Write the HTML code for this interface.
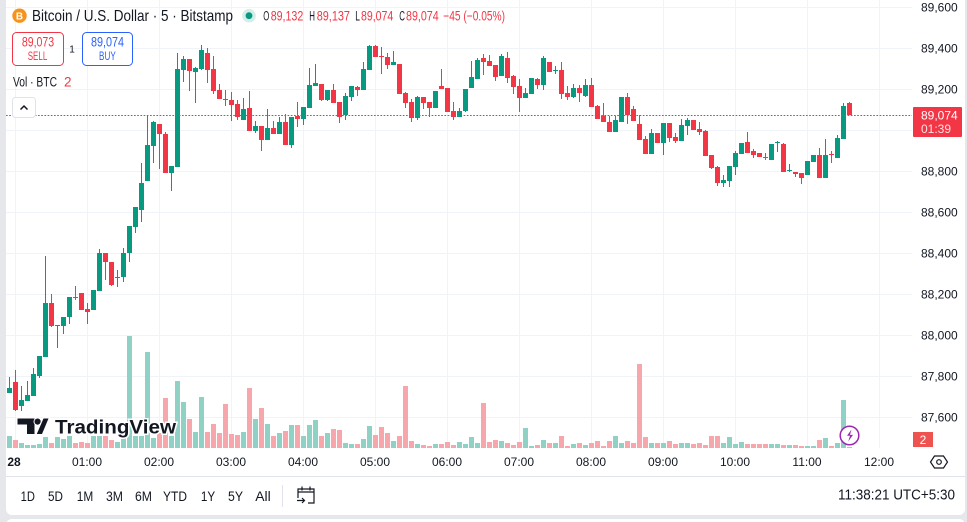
<!DOCTYPE html>
<html><head><meta charset="utf-8"><style>
html,body{margin:0;padding:0;background:#e6e7ea;}
svg{display:block;font-family:"Liberation Sans",Arial,sans-serif;}
</style></head><body>
<svg width="967" height="522" viewBox="0 0 967 522" xmlns="http://www.w3.org/2000/svg">
<rect x="0" y="0" width="967" height="522" fill="#e6e7ea"/>
<rect x="6" y="-10" width="959" height="525" rx="6" fill="#ffffff"/>
<rect x="6" y="519" width="959" height="20" rx="6" fill="#ffffff"/>

<!-- grid -->
<g stroke="#f0f3fa" stroke-width="1" shape-rendering="crispEdges">
<path d="M6 7.5H912M6 48.5H912M6 89.5H912M6 130.5H912M6 171.5H912M6 212.5H912M6 253.5H912M6 294.5H912M6 335.5H912M6 376.5H912M6 417.5H912"/>
<path d="M15.5 0V448M87.5 0V448M159.5 0V448M231.5 0V448M303.5 0V448M375.5 0V448M447.5 0V448M519.5 0V448M591.5 0V448M663.5 0V448M735.5 0V448M807.5 0V448M879.5 0V448"/>
</g>

<!-- volume -->
<g shape-rendering="crispEdges">
<path fill="#90d1c6" d="M7 436h5V448h-5zM19 443h5V448h-5zM25 445h5V448h-5zM31 445h5V448h-5zM37 444h5V448h-5zM43 437h5V448h-5zM55 437h5V448h-5zM61 439h5V448h-5zM67 436h5V448h-5zM91 436h5V448h-5zM97 436h5V448h-5zM115 442h5V448h-5zM121 438h5V448h-5zM127 336h5V448h-5zM133 436h5V448h-5zM139 436h5V448h-5zM145 352h5V448h-5zM151 438h5V448h-5zM169 436h5V448h-5zM175 381h5V448h-5zM181 402h5V448h-5zM193 432h5V448h-5zM199 397h5V448h-5zM241 432h5V448h-5zM253 419h5V448h-5zM265 424h5V448h-5zM277 433h5V448h-5zM289 425h5V448h-5zM301 436h5V448h-5zM307 425h5V448h-5zM313 420h5V448h-5zM325 433h5V448h-5zM343 443h5V448h-5zM349 444h5V448h-5zM361 439h5V448h-5zM367 426h5V448h-5zM391 441h5V448h-5zM415 444h5V448h-5zM433 444h5V448h-5zM457 442h5V448h-5zM463 444h5V448h-5zM469 437h5V448h-5zM475 443h5V448h-5zM499 441h5V448h-5zM523 428h5V448h-5zM529 446h5V448h-5zM541 440h5V448h-5zM553 443h5V448h-5zM571 444h5V448h-5zM583 445h5V448h-5zM613 436h5V448h-5zM619 443h5V448h-5zM649 443h5V448h-5zM661 443h5V448h-5zM679 443h5V448h-5zM685 443h5V448h-5zM721 443h5V448h-5zM727 437h5V448h-5zM733 444h5V448h-5zM739 442h5V448h-5zM769 444h5V448h-5zM775 444h5V448h-5zM787 445h5V448h-5zM805 446h5V448h-5zM811 446h5V448h-5zM823 438h5V448h-5zM835 443h5V448h-5zM841 400h5V448h-5z"/>
<path fill="#f7a7ab" d="M13 440h5V448h-5zM49 443h5V448h-5zM73 443h5V448h-5zM79 442h5V448h-5zM85 443h5V448h-5zM103 436h5V448h-5zM109 440h5V448h-5zM157 433h5V448h-5zM163 398h5V448h-5zM187 419h5V448h-5zM205 432h5V448h-5zM211 424h5V448h-5zM217 433h5V448h-5zM223 404h5V448h-5zM229 434h5V448h-5zM235 435h5V448h-5zM247 388h5V448h-5zM259 408h5V448h-5zM271 436h5V448h-5zM283 431h5V448h-5zM295 425h5V448h-5zM319 436h5V448h-5zM331 429h5V448h-5zM337 430h5V448h-5zM355 444h5V448h-5zM373 435h5V448h-5zM379 427h5V448h-5zM385 433h5V448h-5zM397 436h5V448h-5zM403 386h5V448h-5zM409 441h5V448h-5zM421 445h5V448h-5zM427 446h5V448h-5zM439 444h5V448h-5zM445 442h5V448h-5zM451 445h5V448h-5zM481 403h5V448h-5zM487 442h5V448h-5zM493 440h5V448h-5zM505 443h5V448h-5zM511 445h5V448h-5zM517 442h5V448h-5zM535 445h5V448h-5zM547 443h5V448h-5zM559 436h5V448h-5zM565 446h5V448h-5zM577 443h5V448h-5zM589 443h5V448h-5zM595 441h5V448h-5zM601 446h5V448h-5zM607 441h5V448h-5zM625 441h5V448h-5zM631 443h5V448h-5zM637 364h5V448h-5zM643 437h5V448h-5zM655 443h5V448h-5zM667 441h5V448h-5zM673 444h5V448h-5zM691 444h5V448h-5zM697 443h5V448h-5zM703 445h5V448h-5zM709 436h5V448h-5zM715 436h5V448h-5zM745 444h5V448h-5zM751 444h5V448h-5zM757 444h5V448h-5zM763 444h5V448h-5zM781 445h5V448h-5zM793 445h5V448h-5zM799 446h5V448h-5zM817 440h5V448h-5zM829 446h5V448h-5zM847 447h5V448h-5z"/>
</g>

<!-- candles -->
<g shape-rendering="crispEdges">
<path fill="#089981" d="M9 377h1v16h-1zM7 388h5v5h-5zM21 386h1v25h-1zM19 400h5v6h-5zM27 381h1v20h-1zM25 395h5v6h-5zM33 368h1v28h-1zM31 374h5v22h-5zM39 356h1v22h-1zM37 356h5v20h-5zM45 256h1v101h-1zM43 303h5v54h-5zM57 325h1v23h-1zM55 325h5v1h-5zM63 317h1v17h-1zM61 317h5v9h-5zM69 297h1v27h-1zM67 297h5v20h-5zM93 290h1v20h-1zM91 290h5v20h-5zM99 249h1v42h-1zM97 253h5v38h-5zM117 270h1v17h-1zM115 277h5v1h-5zM123 248h1v34h-1zM121 253h5v24h-5zM129 226h1v36h-1zM127 226h5v27h-5zM135 207h1v26h-1zM133 207h5v20h-5zM141 163h1v59h-1zM139 183h5v27h-5zM147 116h1v65h-1zM145 145h5v36h-5zM153 121h1v42h-1zM151 122h5v24h-5zM171 166h1v25h-1zM169 166h5v7h-5zM177 53h1v114h-1zM175 69h5v98h-5zM183 56h1v26h-1zM181 59h5v11h-5zM195 67h1v36h-1zM193 68h5v4h-5zM201 45h1v25h-1zM199 50h5v19h-5zM243 98h1v22h-1zM241 109h5v11h-5zM255 121h1v12h-1zM253 126h5v5h-5zM267 109h1v31h-1zM265 128h5v12h-5zM279 117h1v17h-1zM277 122h5v12h-5zM291 117h1v31h-1zM289 117h5v28h-5zM303 107h1v18h-1zM301 107h5v12h-5zM309 68h1v40h-1zM307 85h5v23h-5zM315 64h1v22h-1zM313 83h5v3h-5zM327 90h1v11h-1zM325 90h5v10h-5zM345 93h1v27h-1zM343 96h5v19h-5zM351 86h1v15h-1zM349 86h5v11h-5zM363 62h1v28h-1zM361 69h5v21h-5zM369 45h1v25h-1zM367 46h5v24h-5zM393 51h1v14h-1zM391 62h5v3h-5zM417 96h1v24h-1zM415 97h5v21h-5zM435 91h1v17h-1zM433 91h5v17h-5zM459 108h1v9h-1zM457 111h5v6h-5zM465 89h1v23h-1zM463 89h5v22h-5zM471 61h1v27h-1zM469 77h5v11h-5zM477 58h1v21h-1zM475 60h5v19h-5zM501 54h1v22h-1zM499 56h5v20h-5zM525 88h1v10h-1zM523 93h5v5h-5zM531 78h1v16h-1zM529 78h5v16h-5zM543 56h1v34h-1zM541 58h5v27h-5zM555 66h1v8h-1zM553 70h5v1h-5zM573 84h1v14h-1zM571 88h5v9h-5zM585 79h1v18h-1zM583 85h5v11h-5zM615 116h1v16h-1zM613 120h5v12h-5zM621 97h1v25h-1zM619 97h5v25h-5zM651 129h1v25h-1zM649 133h5v21h-5zM663 123h1v32h-1zM661 123h5v20h-5zM681 119h1v22h-1zM679 125h5v16h-5zM687 118h1v17h-1zM685 120h5v6h-5zM723 175h1v12h-1zM721 180h5v3h-5zM729 166h1v21h-1zM727 166h5v15h-5zM735 151h1v24h-1zM733 153h5v14h-5zM741 143h1v11h-1zM739 143h5v11h-5zM771 144h1v16h-1zM769 144h5v16h-5zM777 141h1v11h-1zM775 142h5v1h-5zM789 164h1v8h-1zM787 170h5v1h-5zM807 161h1v14h-1zM805 161h5v14h-5zM813 155h1v7h-1zM811 155h5v7h-5zM825 139h1v39h-1zM823 155h5v23h-5zM837 135h1v23h-1zM835 138h5v20h-5zM843 103h1v36h-1zM841 106h5v33h-5z"/>
<path fill="#f23645" d="M15 370h1v41h-1zM13 382h5v28h-5zM51 294h1v33h-1zM49 303h5v23h-5zM75 286h1v14h-1zM73 297h5v1h-5zM81 293h1v17h-1zM79 293h5v17h-5zM87 303h1v21h-1zM85 309h5v3h-5zM105 253h1v27h-1zM103 253h5v9h-5zM111 262h1v24h-1zM109 262h5v23h-5zM159 124h1v45h-1zM157 124h5v10h-5zM165 132h1v41h-1zM163 134h5v39h-5zM189 59h1v32h-1zM187 59h5v12h-5zM207 48h1v35h-1zM205 53h5v17h-5zM213 56h1v38h-1zM211 69h5v22h-5zM219 84h1v15h-1zM217 90h5v9h-5zM225 90h1v16h-1zM223 99h5v1h-5zM231 92h1v29h-1zM229 100h5v5h-5zM237 100h1v20h-1zM235 104h5v13h-5zM249 91h1v40h-1zM247 108h5v23h-5zM261 126h1v25h-1zM259 126h5v14h-5zM273 121h1v13h-1zM271 128h5v6h-5zM285 114h1v31h-1zM283 122h5v23h-5zM297 102h1v25h-1zM295 116h5v3h-5zM321 84h1v17h-1zM319 84h5v16h-5zM333 84h1v19h-1zM331 90h5v13h-5zM339 102h1v21h-1zM337 102h5v15h-5zM357 86h1v10h-1zM355 87h5v3h-5zM375 45h1v12h-1zM373 46h5v11h-5zM381 47h1v27h-1zM379 56h5v1h-5zM387 53h1v16h-1zM385 57h5v8h-5zM399 64h1v30h-1zM397 64h5v30h-5zM405 92h1v16h-1zM403 93h5v10h-5zM411 99h1v23h-1zM409 102h5v16h-5zM423 97h1v12h-1zM421 97h5v6h-5zM429 102h1v15h-1zM427 102h5v6h-5zM441 69h1v20h-1zM439 86h5v3h-5zM447 88h1v24h-1zM445 88h5v24h-5zM453 102h1v18h-1zM451 111h5v6h-5zM483 54h1v21h-1zM481 58h5v4h-5zM489 55h1v11h-1zM487 61h5v5h-5zM495 65h1v16h-1zM493 65h5v12h-5zM507 52h1v31h-1zM505 58h5v20h-5zM513 75h1v19h-1zM511 76h5v11h-5zM519 79h1v33h-1zM517 86h5v12h-5zM537 78h1v11h-1zM535 79h5v6h-5zM549 62h1v10h-1zM547 62h5v10h-5zM561 62h1v37h-1zM559 70h5v24h-5zM567 86h1v14h-1zM565 93h5v4h-5zM579 85h1v17h-1zM577 88h5v5h-5zM591 78h1v29h-1zM589 85h5v22h-5zM597 105h1v14h-1zM595 106h5v13h-5zM603 103h1v19h-1zM601 116h5v6h-5zM609 116h1v16h-1zM607 122h5v10h-5zM627 93h1v31h-1zM625 97h5v18h-5zM633 106h1v15h-1zM631 109h5v12h-5zM639 115h1v25h-1zM637 124h5v16h-5zM645 136h1v18h-1zM643 139h5v15h-5zM657 133h1v10h-1zM655 133h5v10h-5zM669 123h1v19h-1zM667 123h5v15h-5zM675 133h1v10h-1zM673 137h5v4h-5zM693 120h1v10h-1zM691 120h5v10h-5zM699 122h1v13h-1zM697 129h5v3h-5zM705 130h1v26h-1zM703 131h5v25h-5zM711 155h1v14h-1zM709 155h5v13h-5zM717 166h1v20h-1zM715 167h5v16h-5zM747 132h1v21h-1zM745 142h5v11h-5zM753 149h1v9h-1zM751 151h5v4h-5zM759 153h1v4h-1zM757 153h5v4h-5zM765 153h1v7h-1zM763 157h5v1h-5zM783 143h1v29h-1zM781 144h5v28h-5zM795 172h1v5h-1zM793 172h5v2h-5zM801 173h1v11h-1zM799 173h5v5h-5zM819 148h1v30h-1zM817 155h5v23h-5zM831 151h1v12h-1zM829 154h5v1h-5zM849 102h1v13h-1zM847 103h5v12h-5z"/>
</g>

<!-- current price dotted line -->
<line x1="6" y1="115.5" x2="912" y2="115.5" stroke="#f23645" stroke-width="1.1" stroke-dasharray="1.7 1.5"/>

<!-- TradingView logo -->
<g>
<path d="M17.5 418.5h17v15.5h-7.5v-9.5h-9.5z" fill="#131722" stroke="#fff" stroke-width="2.5" paint-order="stroke"/>
<circle cx="37.6" cy="421.6" r="3.1" fill="#131722" stroke="#fff" stroke-width="2" paint-order="stroke"/>
<path d="M43.5 418.5h5l-6.5 15.5h-5.2z" fill="#131722" stroke="#fff" stroke-width="2.5" paint-order="stroke"/>
<text x="55" y="433.5" font-size="19.5" font-weight="bold" fill="#131722" stroke="#ffffff" stroke-width="3" paint-order="stroke" textLength="121" lengthAdjust="spacingAndGlyphs">TradingView</text>
</g>

<!-- lightning badge -->
<circle cx="849.5" cy="435.5" r="9.3" fill="#ffffff" stroke="#9c27b0" stroke-width="1.5"/>
<path d="M851.5 429.5l-4.5 6.3h3l-1.8 5.7 4.8-6.6h-3z" fill="#9c27b0"/>

<!-- header -->
<circle cx="19.5" cy="15.7" r="7.2" fill="#f7931a"/>
<text x="19.5" y="19.4" font-size="10" font-weight="bold" fill="#ffffff" text-anchor="middle">B</text>
<text x="32" y="21" font-size="16" fill="#131722" textLength="201" lengthAdjust="spacingAndGlyphs">Bitcoin / U.S. Dollar · 5 · Bitstamp</text>
<circle cx="249" cy="15.7" r="6.8" fill="#d3eee9"/>
<circle cx="249" cy="15.7" r="3.4" fill="#089981"/>
<g font-size="13.5">
<text x="263.3" y="20.7" fill="#131722" textLength="6" lengthAdjust="spacingAndGlyphs">O</text>
<text x="270.7" y="20.7" fill="#f23645" textLength="32.6" lengthAdjust="spacingAndGlyphs">89,132</text>
<text x="309.3" y="20.7" fill="#131722" textLength="5.7" lengthAdjust="spacingAndGlyphs">H</text>
<text x="316.7" y="20.7" fill="#f23645" textLength="33.3" lengthAdjust="spacingAndGlyphs">89,137</text>
<text x="355.3" y="20.7" fill="#131722" textLength="4.7" lengthAdjust="spacingAndGlyphs">L</text>
<text x="361" y="20.7" fill="#f23645" textLength="32.3" lengthAdjust="spacingAndGlyphs">89,074</text>
<text x="399.3" y="20.7" fill="#131722" textLength="5.7" lengthAdjust="spacingAndGlyphs">C</text>
<text x="406" y="20.7" fill="#f23645" textLength="32.7" lengthAdjust="spacingAndGlyphs">89,074</text>
<text x="443.3" y="20.7" fill="#f23645" textLength="61.7" lengthAdjust="spacingAndGlyphs">−45 (−0.05%)</text>
</g>

<!-- sell / buy -->
<rect x="12.5" y="32.5" width="51" height="33" rx="4" fill="#ffffff" stroke="#f23645" stroke-width="1"/>
<text x="38" y="46.3" font-size="13.5" fill="#f23645" text-anchor="middle" textLength="32.3" lengthAdjust="spacingAndGlyphs">89,073</text>
<text x="37.5" y="60" font-size="12" fill="#f23645" text-anchor="middle" textLength="19.6" lengthAdjust="spacingAndGlyphs">SELL</text>
<text x="72" y="52.5" font-size="10" fill="#131722" text-anchor="middle">1</text>
<rect x="82.5" y="32.5" width="50" height="33" rx="4" fill="#ffffff" stroke="#2962ff" stroke-width="1"/>
<text x="107.5" y="46.3" font-size="13.5" fill="#2962ff" text-anchor="middle" textLength="33" lengthAdjust="spacingAndGlyphs">89,074</text>
<text x="107.4" y="60" font-size="12" fill="#2962ff" text-anchor="middle" textLength="16.7" lengthAdjust="spacingAndGlyphs">BUY</text>

<text x="13" y="86.5" font-size="13.5" fill="#131722" textLength="44" lengthAdjust="spacingAndGlyphs">Vol · BTC</text>
<text x="64" y="86.5" font-size="13.5" fill="#f23645">2</text>
<rect x="12.5" y="97.5" width="23" height="20" rx="3" fill="#ffffff" stroke="#e0e3eb" stroke-width="1"/>
<polyline points="20.5,109.5 24,106 27.5,109.5" fill="none" stroke="#131722" stroke-width="1.5"/>

<!-- price axis -->
<g font-size="12" fill="#131722">
<text x="921" y="11.5">89,600</text>
<text x="921" y="52.5">89,400</text>
<text x="921" y="93.5">89,200</text>
<text x="921" y="175.5">88,800</text>
<text x="921" y="216.5">88,600</text>
<text x="921" y="257.5">88,400</text>
<text x="921" y="298.5">88,200</text>
<text x="921" y="339.5">88,000</text>
<text x="921" y="380.5">87,800</text>
<text x="921" y="421.5">87,600</text>
</g>
<rect x="913" y="107" width="49" height="30" rx="1" fill="#f23645"/>
<text x="921" y="119.5" font-size="12" fill="#ffffff">89,074</text>
<text x="921" y="133" font-size="12" fill="#ffffff" fill-opacity="0.85">01:39</text>
<rect x="913" y="432" width="20" height="15" fill="#ef5350"/>
<text x="923" y="444" font-size="12" fill="#ffffff" text-anchor="middle">2</text>

<!-- time axis -->
<g font-size="12" fill="#131722" text-anchor="middle">
<text x="14" y="466" font-weight="bold">28</text>
<text x="87" y="466">01:00</text>
<text x="159" y="466">02:00</text>
<text x="231" y="466">03:00</text>
<text x="303" y="466">04:00</text>
<text x="375" y="466">05:00</text>
<text x="447" y="466">06:00</text>
<text x="519" y="466">07:00</text>
<text x="591" y="466">08:00</text>
<text x="663" y="466">09:00</text>
<text x="735" y="466">10:00</text>
<text x="807" y="466">11:00</text>
<text x="879" y="466">12:00</text>
</g>
<!-- settings hexagon -->
<path d="M934.5 456l-4 6 4 6h9l4-6-4-6z" fill="none" stroke="#131722" stroke-width="1.2"/>
<circle cx="939" cy="462" r="2.3" fill="none" stroke="#131722" stroke-width="1.2"/>

<line x1="6" y1="476.5" x2="965" y2="476.5" stroke="#e0e3eb" stroke-width="1"/>

<!-- bottom toolbar -->
<g font-size="13.5" fill="#131722" text-anchor="middle">
<text x="27.8" y="501" textLength="14.3" lengthAdjust="spacingAndGlyphs">1D</text>
<text x="55.5" y="501" textLength="15" lengthAdjust="spacingAndGlyphs">5D</text>
<text x="85" y="501" textLength="16.5" lengthAdjust="spacingAndGlyphs">1M</text>
<text x="114.5" y="501" textLength="17" lengthAdjust="spacingAndGlyphs">3M</text>
<text x="143.5" y="501" textLength="17" lengthAdjust="spacingAndGlyphs">6M</text>
<text x="175" y="501" textLength="24" lengthAdjust="spacingAndGlyphs">YTD</text>
<text x="208" y="501" textLength="14.3" lengthAdjust="spacingAndGlyphs">1Y</text>
<text x="235.5" y="501" textLength="15" lengthAdjust="spacingAndGlyphs">5Y</text>
<text x="263" y="501" textLength="15.5" lengthAdjust="spacingAndGlyphs">All</text>
</g>
<line x1="282.5" y1="485" x2="282.5" y2="507" stroke="#e0e3eb" stroke-width="1"/>
<g fill="none" stroke="#131722" stroke-width="1.2">
<path d="M298 498V489h16v14h-6"/>
<path d="M298 492h16M302 486.5v4M310 486.5v4"/>
<path d="M297 500.5h7M302 498l2.5 2.5-2.5 2.5"/>
</g>
<text x="955" y="499.5" font-size="14.5" fill="#131722" text-anchor="end" textLength="117" lengthAdjust="spacingAndGlyphs">11:38:21 UTC+5:30</text>
</svg>
</body></html>
